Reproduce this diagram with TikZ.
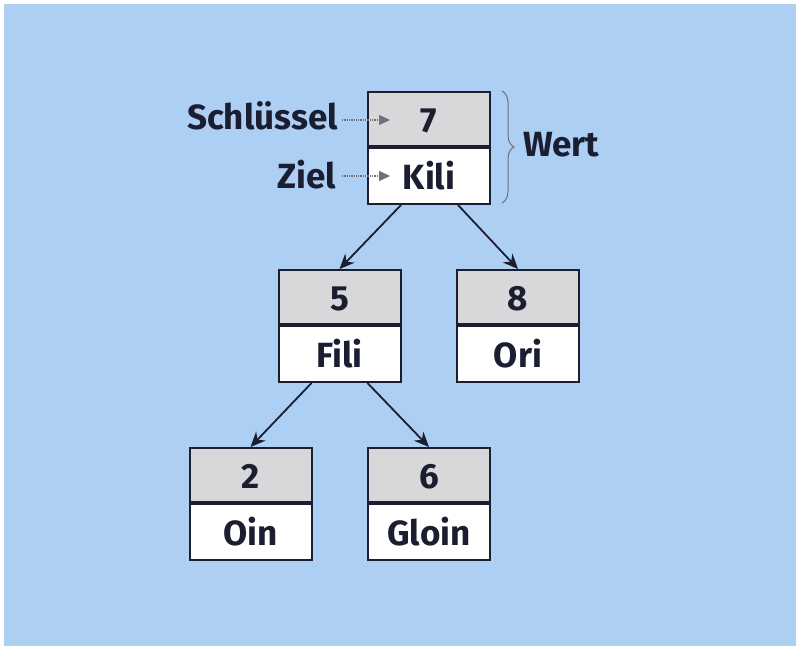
\documentclass[tikz,border=0pt]{standalone}
\usepackage{fontspec}
\setmainfont{Fira Sans}
\usetikzlibrary{arrows.meta,decorations.pathreplacing}
\definecolor{bgblue}{RGB}{172,207,243}
\definecolor{ink}{RGB}{26,30,48}
\definecolor{keygray}{RGB}{216,216,218}
\definecolor{hintgray}{RGB}{110,112,120}
\begin{document}
\begin{tikzpicture}[x=1pt,y=-1pt,
  font=\fontsize{35}{38}\selectfont\bfseries,
  cell/.style={draw=ink,line width=2pt,minimum width=122pt,inner sep=0pt,
    text height=27pt,text depth=0pt,text=ink},
  keycell/.style={cell,fill=keygray,minimum height=54pt},
  valcell/.style={cell,fill=white,minimum height=56pt},
  edge/.style={draw=ink,line width=1.8pt,-{Stealth[length=15pt,width=13pt]}},
  hint/.style={draw=hintgray,line width=1.3pt,densely dotted,-{Triangle[length=11pt,width=10pt,fill=hintgray]}},
  lbl/.style={text=ink,inner sep=0pt}]
\useasboundingbox (0,0) rectangle (800,650);
\fill[white] (0,0) rectangle (800,650);
\fill[bgblue] (4,4) rectangle (796,646);
% tree nodes
\node[keycell] (k7) at (429,119) {7};
\node[valcell,anchor=north] (v7) at (k7.south) {Kili};
\node[keycell] (k5) at (339.5,297) {5};
\node[valcell,anchor=north] (v5) at (k5.south) {Fili};
\node[keycell] (k8) at (518,297) {8};
\node[valcell,anchor=north] (v8) at (k8.south) {Ori};
\node[keycell] (k2) at (250.5,475) {2};
\node[valcell,anchor=north] (v2) at (k2.south) {Oin};
\node[keycell] (k6) at (429,475) {6};
\node[valcell,anchor=north] (v6) at (k6.south) {Gloin};
% edges
\draw[edge] ([xshift=-28pt]v7.south) -- (k5.north);
\draw[edge] ([xshift=29pt]v7.south) -- (k8.north);
\draw[edge] ([xshift=-28pt]v5.south) -- (k2.north);
\draw[edge] ([xshift=28pt]v5.south) -- (k6.north);
% labels
\node[lbl,anchor=base east] (schl) at (338,130) {Schlüssel};
\node[lbl,anchor=base east] (ziel) at (336,188) {Ziel};
\coordinate (schlend) at (390,120);
\coordinate (zielend) at (390,176);
\draw[hint] ([xshift=4pt]schl.east |- schlend) -- (schlend);
\draw[hint] ([xshift=6pt]ziel.east |- zielend) -- (zielend);
\draw[draw=hintgray,line width=1pt,decorate,decoration={brace,amplitude=12pt}]
  (502,91) -- (502,203);
\node[lbl,anchor=base west] (wert) at (523,156) {Wert};
\end{tikzpicture}
\end{document}
